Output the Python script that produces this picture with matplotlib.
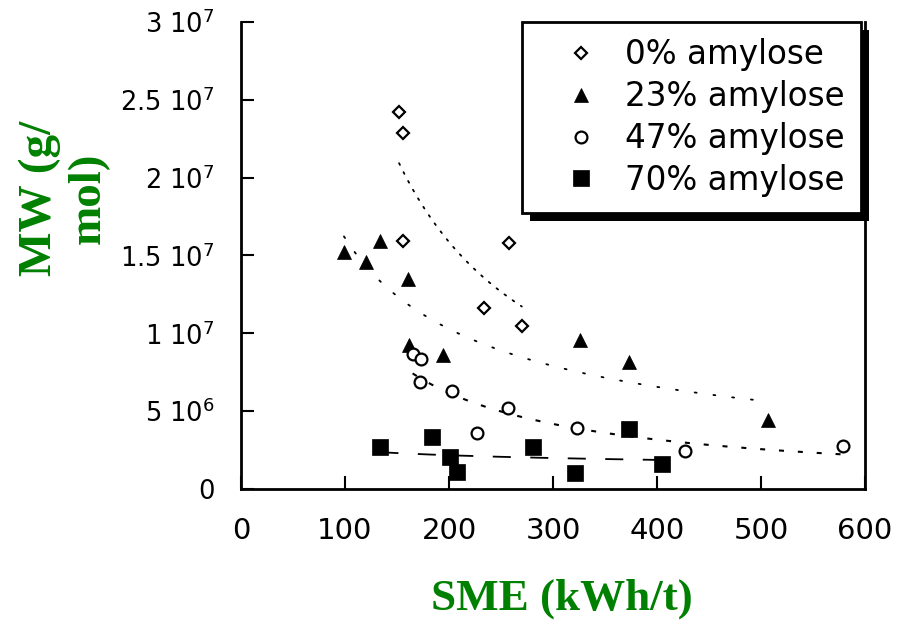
import numpy as np
import matplotlib.pyplot as plt
import matplotlib.patheffects as pe

plt.rcParams['lines.scale_dashes'] = False

# SME (kWh/t) and MW (g/mol)
sme_0 = [152, 156, 156, 258, 234, 270]
mw_0 = [2.42e7, 2.29e7, 1.59e7, 1.58e7, 1.16e7, 1.05e7]

sme_23 = [99, 120, 134, 161, 162, 194, 326, 373, 507]
mw_23 = [1.52e7, 1.46e7, 1.59e7, 1.35e7, 9.25e6, 8.6e6, 9.57e6, 8.16e6, 4.43e6]

sme_47 = [165, 173, 172, 203, 257, 227, 323, 427, 579]
mw_47 = [8.7e6, 8.35e6, 6.9e6, 6.3e6, 5.2e6, 3.6e6, 3.9e6, 2.45e6, 2.76e6]

sme_70 = [134, 184, 201, 208, 281, 321, 373, 405]
mw_70 = [2.7e6, 3.34e6, 2.06e6, 1.1e6, 2.7e6, 1.0e6, 3.85e6, 1.6e6]

labels = ['0% amylose', '23% amylose', '47% amylose', '70% amylose']
x_ticks = [0, 100, 200, 300, 400, 500, 600]
y_ticks = [0, 5e6, 1e7, 1.5e7, 2e7, 2.5e7, 3e7]
y_tick_labels = ['0', r'5 10$^6$', r'1 10$^7$', r'1.5 10$^7$', r'2 10$^7$',
                 r'2.5 10$^7$', r'3 10$^7$']


def power_fit(x, y):
    # power-law trend line (least squares in log-log)
    b, ln_a = np.polyfit(np.log(x), np.log(y), 1)
    xs = np.linspace(min(x), max(x), 300)
    return xs, np.exp(ln_a) * xs ** b


fig = plt.figure(figsize=(9.07, 6.23), dpi=100)
ax = fig.add_axes([241 / 907, 134 / 623, 624 / 907, 467 / 623])

# trend lines
xs, ys = power_fit(sme_0, mw_0)
ax.plot(xs, ys, color='k', lw=1.3, dashes=(1.4, 5.8), dash_capstyle='round')
xs, ys = power_fit(sme_23, mw_23)
ax.plot(xs, ys, color='k', lw=1.3, dashes=(1.4, 12.2), dash_capstyle='round')
xs, ys = power_fit(sme_47, mw_47)
ax.plot(xs, ys, color='k', lw=1.5, dashes=(3.6, 10))
xs, ys = power_fit(sme_70, mw_70)
ax.plot(xs, ys, color='k', lw=1.3, dashes=(13, 14))

# points
ax.plot(sme_0, mw_0, ls='none', marker='D', ms=6, mfc='white', mec='k',
        mew=1.6, label=labels[0])
ax.plot(sme_23, mw_23, ls='none', marker='^', ms=10.5, mfc='k', mec='k',
        mew=0.5, label=labels[1])
ax.plot(sme_47, mw_47, ls='none', marker='o', ms=8.5, mfc='white', mec='k',
        mew=1.6, label=labels[2])
ax.plot(sme_70, mw_70, ls='none', marker='s', ms=12, mfc='k', mec='k',
        mew=0.5, label=labels[3])

ax.set_xlim(0, 600)
ax.set_ylim(0, 3e7)
ax.set_xticks(x_ticks)
ax.set_yticks(y_ticks)
ax.set_yticklabels(y_tick_labels)

ax.spines['top'].set_visible(False)
for side in ['left', 'bottom', 'right']:
    ax.spines[side].set_linewidth(2)
ax.tick_params(direction='in', length=9.5, width=1.5)
ax.tick_params(axis='x', labelsize=21, pad=20)
ax.tick_params(axis='y', labelsize=18.5, pad=19)

leg = ax.legend(loc='upper right', bbox_to_anchor=(861 / 907, 601 / 623),
                bbox_transform=fig.transFigure, fontsize=23.5, frameon=True,
                fancybox=False, edgecolor='k', framealpha=1, borderaxespad=0,
                borderpad=0.5, handlelength=2.6, handletextpad=0.05,
                labelspacing=0.27)
leg.get_frame().set_linewidth(2)
leg.get_frame().set_path_effects([
    pe.SimplePatchShadow(offset=(5.5, -5.5), shadow_rgbFace='k', alpha=1),
    pe.Normal()])

green = '#008000'
fig.text(64 / 907, (623 - 198) / 623, 'MW (g/\nmol)', rotation=90,
         ha='center', va='center', multialignment='center', color=green,
         fontsize=34, fontweight='bold', family='Liberation Serif')
fig.text(562 / 907, (623 - 610) / 623, 'SME (kWh/t)', ha='center',
         va='baseline', color=green, fontsize=32.5, fontweight='bold',
         family='Liberation Serif')

fig.savefig('out.png', dpi=100)
